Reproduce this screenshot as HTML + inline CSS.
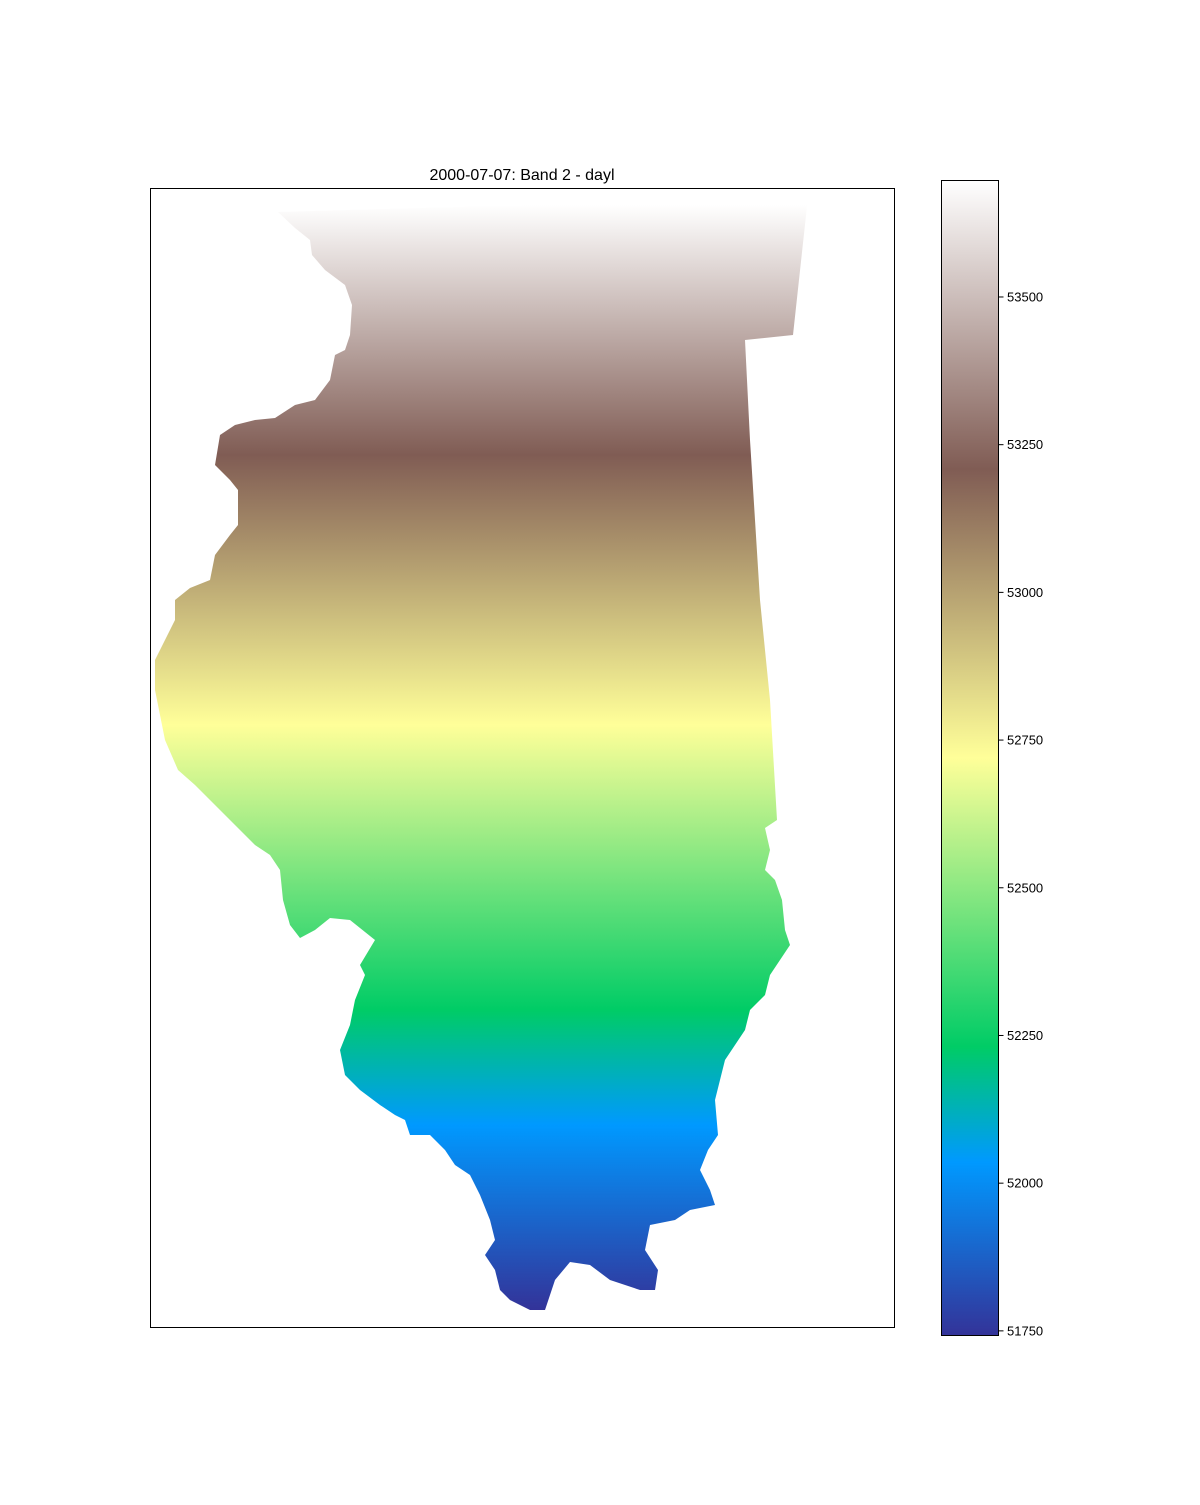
<!DOCTYPE html>
<html><head><meta charset="utf-8"><style>
html,body{margin:0;padding:0;background:#fff;}
svg text{font-family:"Liberation Sans","DejaVu Sans",sans-serif;}
</style></head><body>
<svg id="fig" width="1200" height="1500" xmlns="http://www.w3.org/2000/svg">
<defs>
<linearGradient id="mapgrad" gradientUnits="userSpaceOnUse" x1="0" y1="200" x2="0" y2="1312">
</linearGradient>
<linearGradient id="cbgrad" x1="0" y1="1" x2="0" y2="0"></linearGradient>
</defs>
<text x="522" y="180" text-anchor="middle" font-size="16">2000-07-07: Band 2 - dayl</text>
<rect x="150.5" y="188.5" width="744" height="1139" fill="#fff" stroke="#000" stroke-width="1"/>
<polygon id="state" fill="url(#mapgrad)" points="278,212 808,197 793,335 745,340 750,440 760,600 770,700 777,820 765,828 770,850 765,870 775,880 782,900 785,930 790,945 780,960 770,975 765,995 750,1010 745,1030 735,1045 725,1060 720,1080 715,1100 718,1135 708,1150 700,1170 710,1190 715,1205 690,1210 675,1220 650,1225 645,1250 658,1270 655,1290 640,1290 610,1280 590,1265 570,1262 555,1280 545,1310 530,1310 520,1305 510,1300 500,1290 495,1270 485,1255 495,1240 490,1220 480,1195 470,1175 455,1165 445,1150 430,1135 410,1135 405,1120 395,1115 380,1105 360,1090 345,1075 340,1050 350,1025 355,1000 365,975 360,965 375,940 350,920 330,918 315,930 300,938 290,925 283,900 280,870 270,855 255,845 240,830 225,815 210,800 195,785 178,770 165,740 160,715 155,690 155,660 165,640 175,620 175,600 190,588 210,580 215,555 230,535 238,525 238,490 230,480 215,465 220,435 235,425 255,420 275,418 295,405 315,400 330,380 335,355 345,350 350,335 352,305 345,285 325,270 312,255 310,240 295,228"/>
<rect x="941.5" y="180.5" width="57" height="1155" fill="url(#cbgrad)" stroke="#000" stroke-width="1"/>
<g id="cbticks"></g>
</svg>
<script>
const tickValues = [51750, 52000, 52250, 52500, 52750, 53000, 53250, 53500];
const tickLabels = ["51750", "52000", "52250", "52500", "52750", "53000", "53250", "53500"];
const cmapStops = [0, 0.15, 0.25, 0.5, 0.75, 1];
const cmapColors = ["rgb(51,51,153)", "rgb(0,153,255)", "rgb(0,204,102)", "rgb(255,255,153)", "rgb(128,92,84)", "rgb(255,255,255)"];
const mapStopY = [1310, 1125, 1010, 725, 455, 205];
const vmin = 51743, vmax = 53698;
const cbTop = 180, cbBot = 1335;
function yScale(v){ return cbBot - (v - vmin) / (vmax - vmin) * (cbBot - cbTop); }
const NS = "http://www.w3.org/2000/svg";
const cb = document.getElementById('cbgrad');
cmapStops.forEach((s, i) => {
  const st = document.createElementNS(NS, 'stop');
  st.setAttribute('offset', s);
  st.setAttribute('stop-color', cmapColors[i]);
  cb.appendChild(st);
});
const mg = document.getElementById('mapgrad');
for (let i = cmapStops.length - 1; i >= 0; i--) {
  const st = document.createElementNS(NS, 'stop');
  st.setAttribute('offset', ((mapStopY[i] - 200) / 1112).toFixed(4));
  st.setAttribute('stop-color', cmapColors[i]);
  mg.appendChild(st);
}
const g = document.getElementById('cbticks');
tickValues.forEach((v, i) => {
  const y = yScale(v);
  const ln = document.createElementNS(NS, 'line');
  ln.setAttribute('x1', 998.5); ln.setAttribute('x2', 1003.5);
  ln.setAttribute('y1', y); ln.setAttribute('y2', y);
  ln.setAttribute('stroke', '#000');
  
  
  g.appendChild(ln);
  const t = document.createElementNS(NS, 'text');
  t.setAttribute('x', 1007); t.setAttribute('y', y + 4.5);
  t.setAttribute('font-size', '13');
  t.textContent = tickLabels[i];
  
  
  g.appendChild(t);
});
</script>
</body></html>
